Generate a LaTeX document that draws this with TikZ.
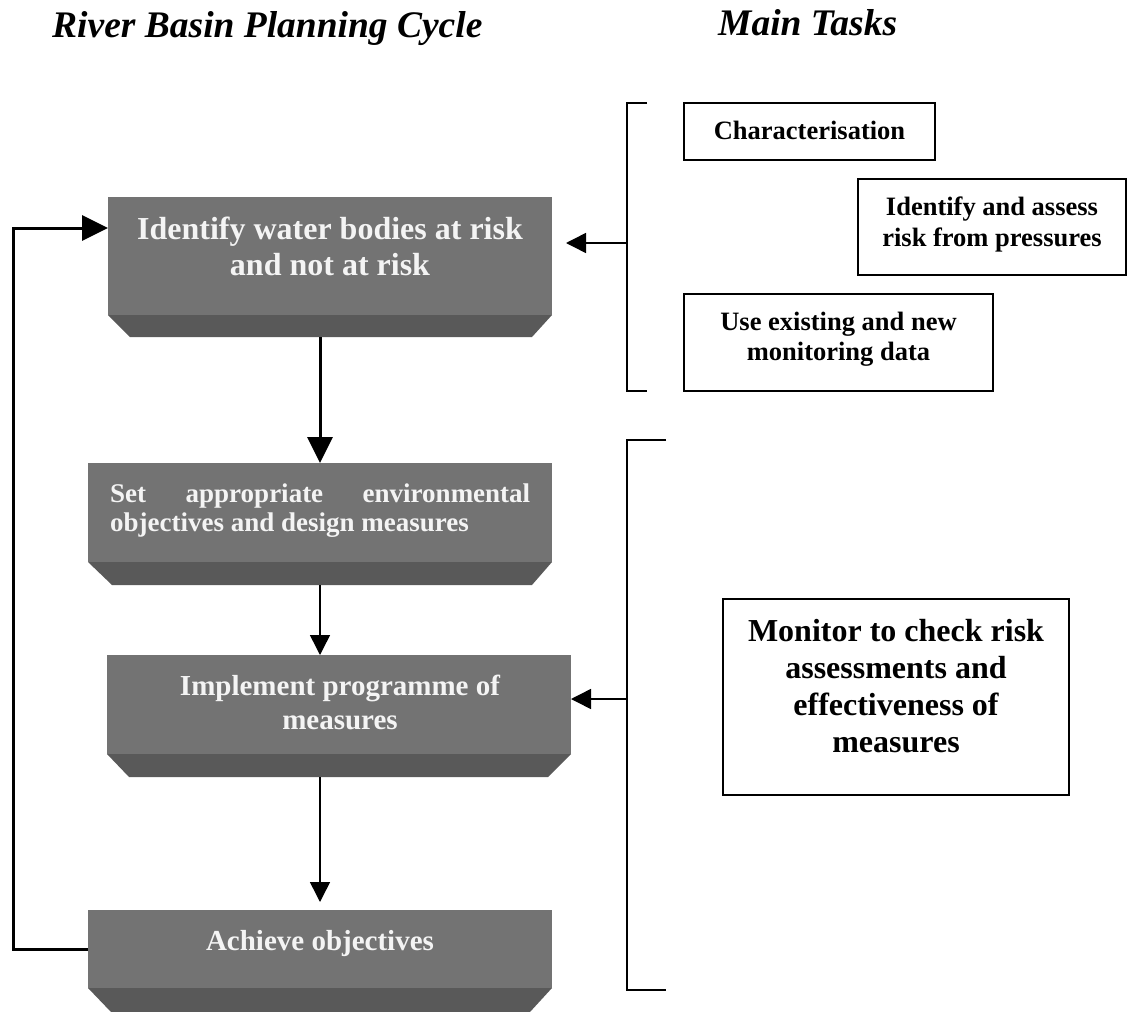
\documentclass[tikz,border=0pt]{standalone}
\usepackage{fontspec}
\setmainfont{Liberation Serif}
\usetikzlibrary{arrows.meta,calc}
\definecolor{facegrey}{HTML}{737373}
\definecolor{bevgrey}{HTML}{595959}
\definecolor{ftext}{HTML}{F4F4F4}
\newcommand{\mylines}[3]{\fontsize{#1}{#2}\selectfont\begin{tabular}[t]{@{}c@{}}#3\end{tabular}}
\begin{document}
\begin{tikzpicture}[x=1pt,y=-1pt,
  face/.style={fill=facegrey, draw=none, inner sep=0pt, outer sep=0pt},
  bevel/.style={fill=bevgrey, draw=none},
  wtext/.style={text=ftext, inner sep=0pt, anchor=base, font=\bfseries},
  btext/.style={text=black, inner sep=0pt, anchor=base, font=\bfseries},
  taskbox/.style={draw=black, line width=1.5pt, fill=white, inner sep=0pt},
  thickarr/.style={line width=3pt, -{Triangle[length=26pt,width=25pt]}},
  thinarr/.style={line width=1.5pt, -{Triangle[length=20pt,width=20pt]}},
  brk/.style={line width=1.5pt},
  ttl/.style={inner sep=0pt, anchor=base west, font=\bfseries\itshape\fontsize{37.5}{40}\selectfont}
]
\useasboundingbox (0,0) rectangle (1128,1012);

% titles
\node[ttl] (title1) at (52,37) {River Basin Planning Cycle};
\node[ttl] (title2) at (718,35) {Main Tasks};

% grey step boxes
\node[face, minimum width=444pt, minimum height=118pt] (b1) at (330,256) {};
\fill[bevel] (b1.south west) -- (b1.south east) -- ([xshift=-20pt,yshift=-22pt]b1.south east) -- ([xshift=22pt,yshift=-22pt]b1.south west) -- cycle;
\node[wtext] (t1) at (330,239) {\mylines{32}{36}{Identify water bodies at risk\\and not at risk}};

\node[face, minimum width=464pt, minimum height=99pt] (b2) at (320,512.5) {};
\fill[bevel] (b2.south west) -- (b2.south east) -- ([xshift=-20pt,yshift=-23pt]b2.south east) -- ([xshift=24pt,yshift=-23pt]b2.south west) -- cycle;
\node[wtext, anchor=base west] (t2) at (110,502) {\fontsize{27}{29}\selectfont\begin{tabular}[t]{@{}l@{}}\makebox[420pt][s]{Set appropriate environmental}\\objectives and design measures\end{tabular}};

\node[face, minimum width=464pt, minimum height=99pt] (b3) at (339,704.5) {};
\fill[bevel] (b3.south west) -- (b3.south east) -- ([xshift=-23pt,yshift=-23pt]b3.south east) -- ([xshift=22pt,yshift=-23pt]b3.south west) -- cycle;
\node[wtext] (t3) at (340,695) {\mylines{29}{34}{Implement programme of\\measures}};

\node[face, minimum width=464pt, minimum height=78pt] (b4) at (320,949) {};
\fill[bevel] (b4.south west) -- (b4.south east) -- ([xshift=-22pt,yshift=-24pt]b4.south east) -- ([xshift=23pt,yshift=-24pt]b4.south west) -- cycle;
\node[wtext] (t4) at (320,950) {\mylines{29}{34}{Achieve objectives}};

% flow arrows
\draw[thickarr] ([xshift=-10pt,yshift=-22pt]b1.south) -- (b2.north);
\draw[thinarr] ([yshift=-23pt]b2.south) -- (b2.south |- b3.north);
\draw[thinarr] ([yshift=-23pt,xshift=-19pt]b3.south) -- ([yshift=8pt]b4.north);
\draw[thickarr] (b4.west) -- ++(-75,0) |- ([yshift=28pt]b1.west);

% task boxes
\node[taskbox, minimum width=251pt, minimum height=57pt] (c1) at (809.5,131.5) {};
\node[btext] (c1t) at (809.5,139) {\mylines{26.5}{31}{Characterisation}};
\node[taskbox, minimum width=268pt, minimum height=96pt] (c2) at (992,227) {};
\node[btext] (c2t) at (992,215) {\mylines{26.5}{31}{Identify and assess\\risk from pressures}};
\node[taskbox, minimum width=309pt, minimum height=97pt] (c3) at (838.5,342.5) {};
\node[btext] (c3t) at (838.5,330) {\mylines{26.5}{30}{Use existing and new\\monitoring data}};
\node[taskbox, minimum width=346pt, minimum height=196pt] (c4) at (896,697) {};
\node[btext] (c4t) at (896,641) {\mylines{32}{37}{Monitor to check risk\\assessments and\\effectiveness of\\measures}};

% brackets
\draw[brk] (647,103) -- (627,103) -- (627,391) -- (647,391);
\coordinate (k1) at (627,243);
\coordinate (k1end) at (566,243);
\draw[thinarr] (k1) -- (k1end);
\draw[brk] (666,440) -- (627,440) -- (627,990) -- (666,990);
\coordinate (k2) at (627,699);
\draw[thinarr] (k2) -- (k2 -| b3.east);
\end{tikzpicture}
\end{document}
